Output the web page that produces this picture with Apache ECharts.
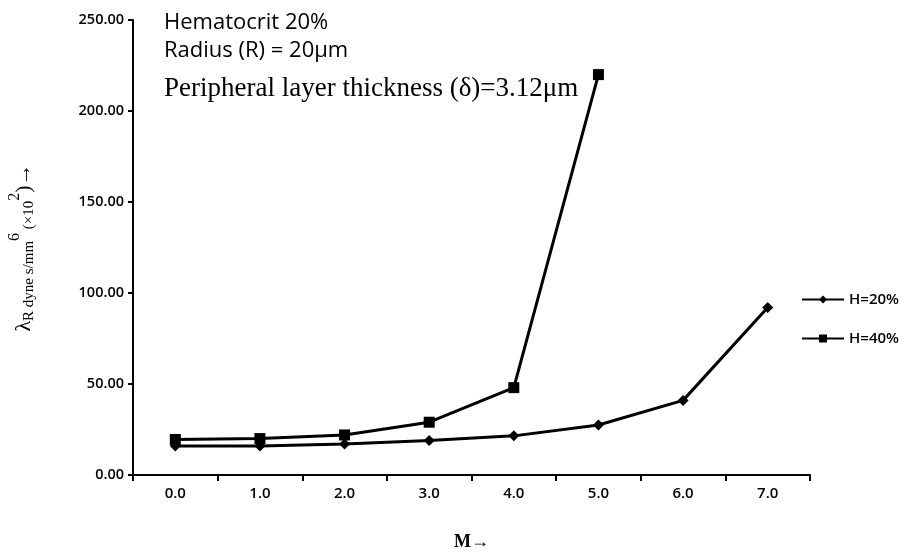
<!DOCTYPE html>
<html>
<head>
<meta charset="utf-8">
<script src="https://cdn.jsdelivr.net/npm/echarts@6/dist/echarts.min.js"></script>
<style>
  html, body { margin: 0; padding: 0; background: #fff; }
  #chart { width: 914px; height: 553px; }
</style>
</head>
<body>
<div id="chart"></div>
<script>
// M values on the x axis
const mValues = ['0.0', '1.0', '2.0', '3.0', '4.0', '5.0', '6.0', '7.0']
// resistance
const h20 = [16, 16, 17, 19, 21.5, 27.5, 41, 92]
const h40 = [19.5, 20, 22, 29, 48, 220]
const notes = ['Hematocrit 20%', 'Radius (R) = 20μm', 'Peripheral layer thickness (δ)=3.12μm']

const chart = echarts.init(document.getElementById('chart'))

const option = {
    animation: false,
    backgroundColor: '#fff',
    grid: { left: 133, right: 104, top: 20, bottom: 78, outerBoundsMode: 'none' },
    legend: {
        orient: 'vertical',
        right: 10,
        top: 287,
        itemWidth: 42,
        itemHeight: 10,
        itemGap: 24,
        textStyle: { fontFamily: 'Open Sans', fontSize: 15, color: '#000', fontWeight: 600 },
        data: ['H=20%', 'H=40%']
    },
    xAxis: {
        type: 'category',
        data: mValues,
        boundaryGap: true,
        name: 'M→',
        nameLocation: 'middle',
        nameGap: 58,
        nameTextStyle: { fontFamily: 'Liberation Serif', fontSize: 18, fontWeight: 'bold', color: '#000' },
        axisLine: { lineStyle: { color: '#000', width: 2 } },
        axisTick: { show: true, length: 6, lineStyle: { color: '#000', width: 2 } },
        axisLabel: { margin: 11, fontFamily: 'Open Sans', fontSize: 15, color: '#000', fontWeight: 600 }
    },
    yAxis: {
        type: 'value',
        min: 0,
        max: 250,
        interval: 50,
        name: '{l|λ}{s|R dyne s/mm}{p|6}{s| (×10}{p|2}{l|)→}',
        nameLocation: 'middle',
        nameRotate: 90,
        nameGap: 92,
        nameTextStyle: {
            color: '#000',
            fontFamily: 'Liberation Serif',
            rich: {
                l: { fontSize: 22, fontFamily: 'Liberation Serif', color: '#000' },
                s: { fontSize: 15, fontFamily: 'Liberation Serif', color: '#000', padding: [10, 0, 0, 0] },
                p: { fontSize: 16, fontFamily: 'Liberation Serif', color: '#000', padding: [0, 0, 18, 0] }
            }
        },
        splitLine: { show: false },
        axisLine: { show: true, lineStyle: { color: '#000', width: 2 } },
        axisTick: { show: true, length: 5, lineStyle: { color: '#000', width: 2 } },
        axisLabel: {
            margin: 9,
            fontFamily: 'Open Sans',
            fontSize: 14.5,
            color: '#000',
            fontWeight: 600,
            formatter: v => v.toFixed(2)
        }
    },
    series: [
        {
            name: 'H=20%',
            type: 'line',
            data: h20,
            symbol: 'diamond',
            symbolSize: 11,
            itemStyle: { color: '#000' },
            lineStyle: { color: '#000', width: 3 }
        },
        {
            name: 'H=40%',
            type: 'line',
            data: h40,
            symbol: 'rect',
            symbolSize: 11,
            itemStyle: { color: '#000' },
            lineStyle: { color: '#000', width: 3 }
        }
    ],
    graphic: [
        {
            type: 'text', left: 164, top: 12,
            style: { text: notes[0], fontFamily: 'Open Sans', fontSize: 22, fill: '#000' }
        },
        {
            type: 'text', left: 164, top: 40,
            style: { text: notes[1], fontFamily: 'Open Sans', fontSize: 22, fill: '#000' }
        },
        {
            type: 'text', left: 164, top: 75,
            style: { text: notes[2], fontFamily: 'Liberation Serif', fontSize: 27, fill: '#000' }
        }
    ]
}

chart.setOption(option)
</script>
</body>
</html>
